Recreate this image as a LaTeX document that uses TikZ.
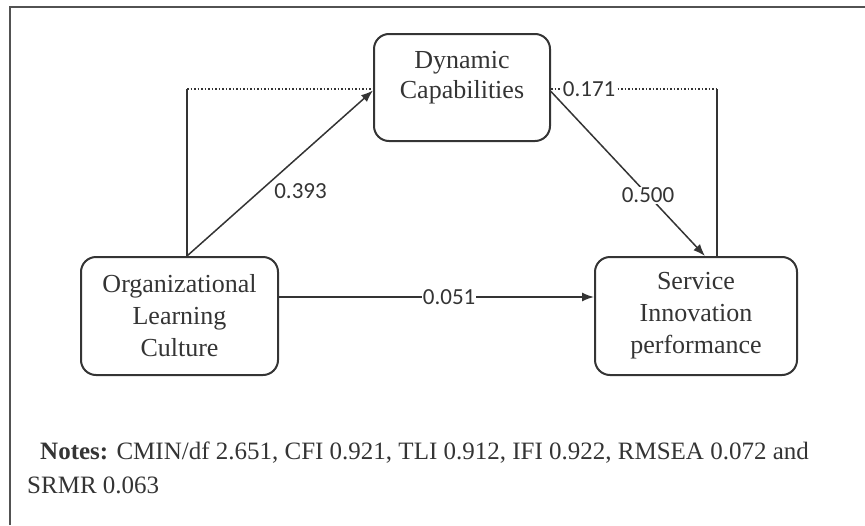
\documentclass[tikz,border=0pt]{standalone}
\usepackage{fontspec}
\setmainfont{Liberation Serif}
\newfontfamily\coeffont{Carlito}
\usetikzlibrary{arrows.meta}
\definecolor{ink}{HTML}{343434}
\begin{document}
\begin{tikzpicture}[x=1pt,y=-1pt,
  box/.style={draw=ink,line width=2pt,rounded corners=15pt,inner sep=0pt},
  boxtext/.style={align=center,text=ink,font=\fontsize{26}{32}\selectfont},
  link/.style={draw=ink,line width=1.5pt},
  arr/.style={link,-{Latex[length=12pt,width=9pt]}},
  coef/.style={text=ink,font=\coeffont\fontsize{23}{26}\selectfont,inner sep=1pt},
  notes/.style={anchor=west,inner sep=0pt,text=ink,font=\fontsize{25}{30}\selectfont}]
\useasboundingbox (0,0) rectangle (865,525);
\draw[ink!85,line width=2.2pt] (10,525) -- (10,7) -- (865,7);
\node[box,minimum width=176pt,minimum height=107pt] (dc) at (462,87.5) {};
\node[boxtext,font=\fontsize{26}{30}\selectfont] (dctext) at (462,78) {Dynamic\\Capabilities};
\node[box,boxtext,minimum width=197pt,minimum height=118pt] (olc) at (179.5,316) {Organizational\\Learning\\Culture};
\node[box,boxtext,minimum width=202pt,minimum height=118pt] (sip) at (696,316) {Service\\Innovation\\performance};
\coordinate (lc) at (187,89);
\coordinate (rc) at (717,89);
\draw[link] ([xshift=7.5pt]olc.north) -- (lc);
\draw[link,dotted] (lc) -- (lc -| dc.west);
\draw[arr] ([xshift=7.5pt]olc.north) -- node[coef,pos=0.39,anchor=west,xshift=13pt] {0.393} ([yshift=-3pt]dc.west);
\draw[link,dotted] (dc.east |- rc) -- node[coef,fill=white,pos=0.23] {0.171} (rc);
\draw[link] (rc) -- (rc |- sip.north);
\draw[arr] ([yshift=-4pt]dc.east) -- node[coef,fill=white,pos=0.63] {0.500} ([xshift=9pt]sip.north);
\draw[arr] ([yshift=19pt]olc.east) -- node[coef,fill=white,pos=0.54] {0.051} ([yshift=19pt]sip.west);
\node[notes] (notes1) at (40,453) {\textbf{Notes:} CMIN/df 2.651, CFI 0.921, TLI 0.912, IFI 0.922, RMSEA 0.072 and};
\node[notes] (notes2) at (27,485) {SRMR 0.063};
\end{tikzpicture}
\end{document}
